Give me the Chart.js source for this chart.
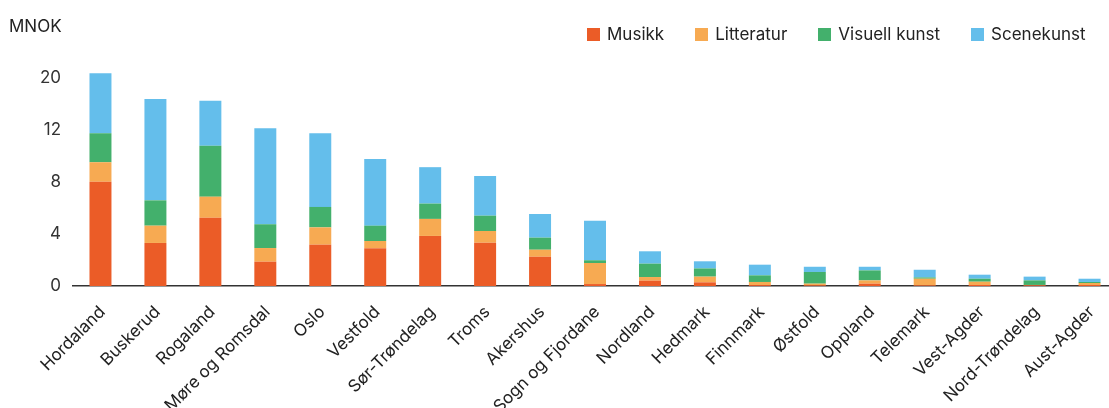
<!DOCTYPE html>
<html lang="no">
<head>
<meta charset="utf-8">
<title>Tilskudd per fylke</title>
<script src="https://cdn.jsdelivr.net/npm/chart.js@4.4.1/dist/chart.umd.min.js"></script>
<style>
  html, body { margin: 0; padding: 0; overflow: hidden; background: #fff; }
  body { width: 1109px; height: 408px; position: relative; font-family: Inter, "Liberation Sans", sans-serif; color: #222; }
  #wrap { position: absolute; left: 0; top: 0; width: 1120px; height: 408px; }
  #unit { position: absolute; left: 9px; top: 18px; font-size: 17px; line-height: 17px; color: #222; }
  #legend { position: absolute; left: 587px; top: 26px; display: flex; white-space: nowrap; font-size: 17px; line-height: 17px; color: #222; }
  #legend .item { display: flex; align-items: center; margin-right: 31px; }
  #legend .box { width: 13px; height: 13px; margin-right: 7px; flex: none; }
</style>
</head>
<body>
<div id="wrap"><canvas id="chart" width="1120" height="408"></canvas></div>
<div id="unit">MNOK</div>
<div id="legend"></div>
<script>
// Fylker, sortert etter samlet tilskudd
const categories = ['Hordaland', 'Buskerud', 'Rogaland', 'Møre og Romsdal', 'Oslo', 'Vestfold',
  'Sør-Trøndelag', 'Troms', 'Akershus', 'Sogn og Fjordane', 'Nordland', 'Hedmark', 'Finnmark',
  'Østfold', 'Oppland', 'Telemark', 'Vest-Agder', 'Nord-Trøndelag', 'Aust-Agder'];

const musikk     = [8.02, 3.31, 5.25, 1.87, 3.18, 2.90, 3.85, 3.33, 2.25, 0.15, 0.41, 0.28, 0.07, 0.05, 0.18, 0.05, 0.08, 0.05, 0.08];
const litteratur = [1.50, 1.33, 1.62, 1.05, 1.33, 0.56, 1.31, 0.90, 0.54, 1.62, 0.28, 0.44, 0.24, 0.13, 0.25, 0.51, 0.25, 0.03, 0.15];
const visuell    = [2.23, 1.95, 3.92, 1.83, 1.57, 1.18, 1.18, 1.18, 0.93, 0.21, 1.03, 0.63, 0.51, 0.90, 0.77, 0.10, 0.23, 0.35, 0.08];
const scene      = [4.61, 7.79, 3.46, 7.38, 5.66, 5.13, 2.80, 3.05, 1.82, 3.04, 0.95, 0.55, 0.82, 0.40, 0.28, 0.59, 0.31, 0.29, 0.25];

const tickValues = [0, 4, 8, 12, 16];
const tickLabels = ['0', '4', '8', '12', '20'];

const series = [
  { label: 'Musikk',        data: musikk,     color: '#EB5C27' },
  { label: 'Litteratur',    data: litteratur, color: '#F7AA52' },
  { label: 'Visuell kunst', data: visuell,    color: '#43B06C' },
  { label: 'Scenekunst',    data: scene,      color: '#64BEEB' }
];

Chart.defaults.font.family = 'Inter, "Liberation Sans", sans-serif';
Chart.defaults.font.size = 17;
Chart.defaults.color = '#222';

// HTML legend
const legendEl = document.getElementById('legend');
series.forEach(s => {
  const item = document.createElement('div');
  item.className = 'item';
  const box = document.createElement('span');
  box.className = 'box';
  box.style.background = s.color;
  const txt = document.createElement('span');
  txt.textContent = s.label;
  item.appendChild(box);
  item.appendChild(txt);
  legendEl.appendChild(item);
});

new Chart(document.getElementById('chart'), {
  type: 'bar',
  data: {
    labels: categories,
    datasets: series.map(s => ({
      label: s.label,
      data: s.data,
      backgroundColor: s.color,
      borderWidth: 0,
      barPercentage: 0.4,
      categoryPercentage: 1
    }))
  },
  options: {
    responsive: false,
    animation: false,
    layout: { padding: { top: 62, right: 1, left: 0, bottom: 0 } },
    plugins: { legend: { display: false }, tooltip: { enabled: false } },
    scales: {
      x: {
        stacked: true,
        z: 1,
        grid: { display: false, drawTicks: false },
        border: { display: true, color: '#333', width: 1.5 },
        ticks: { autoSkip: false, maxRotation: 45, minRotation: 45, padding: 16, labelOffset: 2, color: '#222', font: { size: 17 } },
        afterFit: s => { s.height = 122; }
      },
      y: {
        stacked: true,
        min: 0,
        max: 17.23,
        grid: { display: false, drawTicks: false },
        border: { display: false },
        afterBuildTicks: s => { s.ticks = tickValues.map(v => ({ value: v })); },
        ticks: {
          padding: 12,
          color: '#333',
          font: { size: 17 },
          callback: (v) => tickLabels[tickValues.indexOf(v)]
        },
        afterFit: s => { s.width = 73; }
      }
    }
  }
});
</script>
</body>
</html>
